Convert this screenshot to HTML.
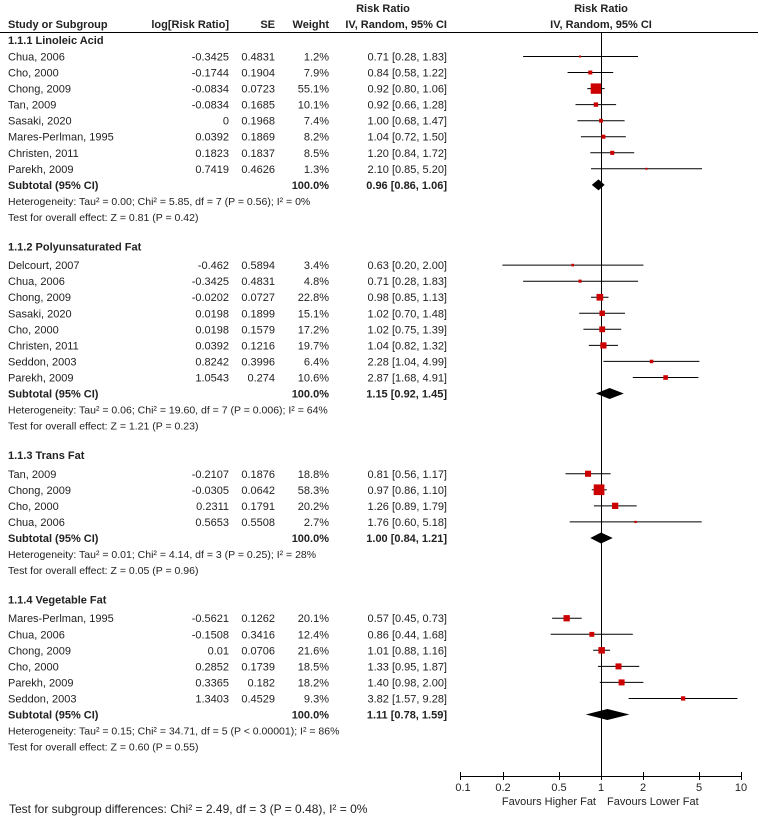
<!DOCTYPE html>
<html><head><meta charset="utf-8"><style>
body{margin:0;background:#fff}
svg{display:block}
text{font-family:"Liberation Sans",Arial,sans-serif;font-size:11px;fill:#222}
.b{font-weight:bold}
.e{text-anchor:end}
.m{text-anchor:middle}
.h{font-size:10.5px}
.f{font-size:12px}
line{stroke:#000;stroke-width:1}
rect{fill:#c00}
</style></head><body>
<svg width="758" height="816" viewBox="0 0 758 816" xmlns="http://www.w3.org/2000/svg">
<text class="b m" x="383" y="12">Risk Ratio</text>
<text class="b m" x="601" y="12">Risk Ratio</text>
<text class="b" x="8" y="28">Study or Subgroup</text>
<text class="b e" x="229" y="28">log[Risk Ratio]</text>
<text class="b e" x="275" y="28">SE</text>
<text class="b e" x="329" y="28">Weight</text>
<text class="b e" x="447" y="28">IV, Random, 95% CI</text>
<text class="b m" x="601" y="28">IV, Random, 95% CI</text>
<line x1="0" y1="32.5" x2="758" y2="32.5"/>
<line x1="601.5" y1="32" x2="601.5" y2="776"/>

<!-- 1.1.1 -->
<text class="b" x="8" y="44">1.1.1 Linoleic Acid</text>
<g>
<text x="8" y="60.5">Chua, 2006</text><text class="e" x="229" y="60.5">-0.3425</text><text class="e" x="275" y="60.5">0.4831</text><text class="e" x="329" y="60.5">1.2%</text><text class="e" x="447" y="60.5">0.71 [0.28, 1.83]</text>
<text x="8" y="76.5">Cho, 2000</text><text class="e" x="229" y="76.5">-0.1744</text><text class="e" x="275" y="76.5">0.1904</text><text class="e" x="329" y="76.5">7.9%</text><text class="e" x="447" y="76.5">0.84 [0.58, 1.22]</text>
<text x="8" y="92.6">Chong, 2009</text><text class="e" x="229" y="92.6">-0.0834</text><text class="e" x="275" y="92.6">0.0723</text><text class="e" x="329" y="92.6">55.1%</text><text class="e" x="447" y="92.6">0.92 [0.80, 1.06]</text>
<text x="8" y="108.6">Tan, 2009</text><text class="e" x="229" y="108.6">-0.0834</text><text class="e" x="275" y="108.6">0.1685</text><text class="e" x="329" y="108.6">10.1%</text><text class="e" x="447" y="108.6">0.92 [0.66, 1.28]</text>
<text x="8" y="124.7">Sasaki, 2020</text><text class="e" x="229" y="124.7">0</text><text class="e" x="275" y="124.7">0.1968</text><text class="e" x="329" y="124.7">7.4%</text><text class="e" x="447" y="124.7">1.00 [0.68, 1.47]</text>
<text x="8" y="140.7">Mares-Perlman, 1995</text><text class="e" x="229" y="140.7">0.0392</text><text class="e" x="275" y="140.7">0.1869</text><text class="e" x="329" y="140.7">8.2%</text><text class="e" x="447" y="140.7">1.04 [0.72, 1.50]</text>
<text x="8" y="156.8">Christen, 2011</text><text class="e" x="229" y="156.8">0.1823</text><text class="e" x="275" y="156.8">0.1837</text><text class="e" x="329" y="156.8">8.5%</text><text class="e" x="447" y="156.8">1.20 [0.84, 1.72]</text>
<text x="8" y="172.8">Parekh, 2009</text><text class="e" x="229" y="172.8">0.7419</text><text class="e" x="275" y="172.8">0.4626</text><text class="e" x="329" y="172.8">1.3%</text><text class="e" x="447" y="172.8">2.10 [0.85, 5.20]</text>
<text class="b" x="8" y="188.9">Subtotal (95% CI)</text><text class="b e" x="329" y="188.9">100.0%</text><text class="b e" x="447" y="188.9">0.96 [0.86, 1.06]</text>
<text class="h" x="8" y="204.9">Heterogeneity: Tau² = 0.00; Chi² = 5.85, df = 7 (P = 0.56); I² = 0%</text>
<text class="h" x="8" y="221">Test for overall effect: Z = 0.81 (P = 0.42)</text>
</g>
<line x1="523.1" y1="56.5" x2="638" y2="56.5"/><rect x="579" y="55.5" width="2" height="2"/>
<line x1="567.6" y1="72.5" x2="613.2" y2="72.5"/><rect x="588.3" y="70.5" width="4" height="4"/>
<line x1="587.3" y1="88.6" x2="604.6" y2="88.6"/><rect x="590.7" y="83.4" width="10.4" height="10.4"/>
<line x1="575.5" y1="104.6" x2="616.1" y2="104.6"/><rect x="593.7" y="102.4" width="4.4" height="4.4"/>
<line x1="577.4" y1="120.7" x2="624.6" y2="120.7"/><rect x="599.1" y="118.8" width="3.8" height="3.8"/>
<line x1="580.9" y1="136.7" x2="625.8" y2="136.7"/><rect x="601.4" y="134.7" width="4" height="4"/>
<line x1="590.3" y1="152.8" x2="634.2" y2="152.8"/><rect x="610.2" y="150.8" width="4.1" height="4.1"/>
<line x1="591" y1="168.8" x2="702" y2="168.8"/><rect x="645.4" y="167.8" width="2" height="2"/>
<polygon points="591.8,184.9 598.5,179.4 604.6,184.9 598.5,190.4" fill="#000"/>

<!-- 1.1.2 -->
<text class="b" x="8" y="250.5">1.1.2 Polyunsaturated Fat</text>
<text x="8" y="269.1">Delcourt, 2007</text><text class="e" x="229" y="269.1">-0.462</text><text class="e" x="275" y="269.1">0.5894</text><text class="e" x="329" y="269.1">3.4%</text><text class="e" x="447" y="269.1">0.63 [0.20, 2.00]</text>
<text x="8" y="285.2">Chua, 2006</text><text class="e" x="229" y="285.2">-0.3425</text><text class="e" x="275" y="285.2">0.4831</text><text class="e" x="329" y="285.2">4.8%</text><text class="e" x="447" y="285.2">0.71 [0.28, 1.83]</text>
<text x="8" y="301.2">Chong, 2009</text><text class="e" x="229" y="301.2">-0.0202</text><text class="e" x="275" y="301.2">0.0727</text><text class="e" x="329" y="301.2">22.8%</text><text class="e" x="447" y="301.2">0.98 [0.85, 1.13]</text>
<text x="8" y="317.3">Sasaki, 2020</text><text class="e" x="229" y="317.3">0.0198</text><text class="e" x="275" y="317.3">0.1899</text><text class="e" x="329" y="317.3">15.1%</text><text class="e" x="447" y="317.3">1.02 [0.70, 1.48]</text>
<text x="8" y="333.3">Cho, 2000</text><text class="e" x="229" y="333.3">0.0198</text><text class="e" x="275" y="333.3">0.1579</text><text class="e" x="329" y="333.3">17.2%</text><text class="e" x="447" y="333.3">1.02 [0.75, 1.39]</text>
<text x="8" y="349.4">Christen, 2011</text><text class="e" x="229" y="349.4">0.0392</text><text class="e" x="275" y="349.4">0.1216</text><text class="e" x="329" y="349.4">19.7%</text><text class="e" x="447" y="349.4">1.04 [0.82, 1.32]</text>
<text x="8" y="365.4">Seddon, 2003</text><text class="e" x="229" y="365.4">0.8242</text><text class="e" x="275" y="365.4">0.3996</text><text class="e" x="329" y="365.4">6.4%</text><text class="e" x="447" y="365.4">2.28 [1.04, 4.99]</text>
<text x="8" y="381.5">Parekh, 2009</text><text class="e" x="229" y="381.5">1.0543</text><text class="e" x="275" y="381.5">0.274</text><text class="e" x="329" y="381.5">10.6%</text><text class="e" x="447" y="381.5">2.87 [1.68, 4.91]</text>
<text class="b" x="8" y="397.5">Subtotal (95% CI)</text><text class="b e" x="329" y="397.5">100.0%</text><text class="b e" x="447" y="397.5">1.15 [0.92, 1.45]</text>
<text class="h" x="8" y="413.6">Heterogeneity: Tau² = 0.06; Chi² = 19.60, df = 7 (P = 0.006); I² = 64%</text>
<text class="h" x="8" y="429.6">Test for overall effect: Z = 1.21 (P = 0.23)</text>
<line x1="502.4" y1="265.1" x2="643.4" y2="265.1"/><rect x="571.4" y="263.8" width="2.6" height="2.6"/>
<line x1="523.1" y1="281.2" x2="638" y2="281.2"/><rect x="578.5" y="279.6" width="3.1" height="3.1"/>
<line x1="591" y1="297.2" x2="608.5" y2="297.2"/><rect x="596.5" y="293.9" width="6.7" height="6.7"/>
<line x1="579.2" y1="313.3" x2="625" y2="313.3"/><rect x="599.5" y="310.6" width="5.4" height="5.4"/>
<line x1="583.4" y1="329.3" x2="621.2" y2="329.3"/><rect x="599.3" y="326.4" width="5.8" height="5.8"/>
<line x1="588.8" y1="345.4" x2="618" y2="345.4"/><rect x="600.3" y="342.3" width="6.2" height="6.2"/>
<line x1="603.4" y1="361.4" x2="699.4" y2="361.4"/><rect x="649.8" y="359.7" width="3.5" height="3.5"/>
<line x1="632.8" y1="377.5" x2="698.4" y2="377.5"/><rect x="663.3" y="375.2" width="4.6" height="4.6"/>
<polygon points="595.9,393.5 609.6,388 623.8,393.5 609.6,399" fill="#000"/>

<!-- 1.1.3 -->
<text class="b" x="8" y="459">1.1.3 Trans Fat</text>
<text x="8" y="477.8">Tan, 2009</text><text class="e" x="229" y="477.8">-0.2107</text><text class="e" x="275" y="477.8">0.1876</text><text class="e" x="329" y="477.8">18.8%</text><text class="e" x="447" y="477.8">0.81 [0.56, 1.17]</text>
<text x="8" y="493.8">Chong, 2009</text><text class="e" x="229" y="493.8">-0.0305</text><text class="e" x="275" y="493.8">0.0642</text><text class="e" x="329" y="493.8">58.3%</text><text class="e" x="447" y="493.8">0.97 [0.86, 1.10]</text>
<text x="8" y="509.9">Cho, 2000</text><text class="e" x="229" y="509.9">0.2311</text><text class="e" x="275" y="509.9">0.1791</text><text class="e" x="329" y="509.9">20.2%</text><text class="e" x="447" y="509.9">1.26 [0.89, 1.79]</text>
<text x="8" y="525.9">Chua, 2006</text><text class="e" x="229" y="525.9">0.5653</text><text class="e" x="275" y="525.9">0.5508</text><text class="e" x="329" y="525.9">2.7%</text><text class="e" x="447" y="525.9">1.76 [0.60, 5.18]</text>
<text class="b" x="8" y="542">Subtotal (95% CI)</text><text class="b e" x="329" y="542">100.0%</text><text class="b e" x="447" y="542">1.00 [0.84, 1.21]</text>
<text class="h" x="8" y="558">Heterogeneity: Tau² = 0.01; Chi² = 4.14, df = 3 (P = 0.25); I² = 28%</text>
<text class="h" x="8" y="574.1">Test for overall effect: Z = 0.05 (P = 0.96)</text>
<line x1="565.5" y1="473.8" x2="610.6" y2="473.8"/><rect x="585" y="470.7" width="6.1" height="6.1"/>
<line x1="591.8" y1="489.8" x2="606.8" y2="489.8"/><rect x="593.7" y="484.4" width="10.7" height="10.7"/>
<line x1="593.9" y1="505.9" x2="636.7" y2="505.9"/><rect x="612" y="502.7" width="6.3" height="6.3"/>
<line x1="569.7" y1="521.9" x2="701.7" y2="521.9"/><rect x="634.4" y="520.8" width="2.3" height="2.3"/>
<polygon points="590.3,538 601,532.5 612.7,538 601,543.5" fill="#000"/>

<!-- 1.1.4 -->
<text class="b" x="8" y="603.5">1.1.4 Vegetable Fat</text>
<text x="8" y="622.2">Mares-Perlman, 1995</text><text class="e" x="229" y="622.2">-0.5621</text><text class="e" x="275" y="622.2">0.1262</text><text class="e" x="329" y="622.2">20.1%</text><text class="e" x="447" y="622.2">0.57 [0.45, 0.73]</text>
<text x="8" y="638.3">Chua, 2006</text><text class="e" x="229" y="638.3">-0.1508</text><text class="e" x="275" y="638.3">0.3416</text><text class="e" x="329" y="638.3">12.4%</text><text class="e" x="447" y="638.3">0.86 [0.44, 1.68]</text>
<text x="8" y="654.3">Chong, 2009</text><text class="e" x="229" y="654.3">0.01</text><text class="e" x="275" y="654.3">0.0706</text><text class="e" x="329" y="654.3">21.6%</text><text class="e" x="447" y="654.3">1.01 [0.88, 1.16]</text>
<text x="8" y="670.4">Cho, 2000</text><text class="e" x="229" y="670.4">0.2852</text><text class="e" x="275" y="670.4">0.1739</text><text class="e" x="329" y="670.4">18.5%</text><text class="e" x="447" y="670.4">1.33 [0.95, 1.87]</text>
<text x="8" y="686.4">Parekh, 2009</text><text class="e" x="229" y="686.4">0.3365</text><text class="e" x="275" y="686.4">0.182</text><text class="e" x="329" y="686.4">18.2%</text><text class="e" x="447" y="686.4">1.40 [0.98, 2.00]</text>
<text x="8" y="702.5">Seddon, 2003</text><text class="e" x="229" y="702.5">1.3403</text><text class="e" x="275" y="702.5">0.4529</text><text class="e" x="329" y="702.5">9.3%</text><text class="e" x="447" y="702.5">3.82 [1.57, 9.28]</text>
<text class="b" x="8" y="718.5">Subtotal (95% CI)</text><text class="b e" x="329" y="718.5">100.0%</text><text class="b e" x="447" y="718.5">1.11 [0.78, 1.59]</text>
<text class="h" x="8" y="734.6">Heterogeneity: Tau² = 0.15; Chi² = 34.71, df = 5 (P &lt; 0.00001); I² = 86%</text>
<text class="h" x="8" y="750.6">Test for overall effect: Z = 0.60 (P = 0.55)</text>
<line x1="552.1" y1="618.2" x2="581.7" y2="618.2"/><rect x="563.5" y="615.1" width="6.3" height="6.3"/>
<line x1="550.7" y1="634.3" x2="632.8" y2="634.3"/><rect x="589.4" y="631.9" width="4.9" height="4.9"/>
<line x1="593.2" y1="650.3" x2="610.1" y2="650.3"/><rect x="598.4" y="647.1" width="6.5" height="6.5"/>
<line x1="597.9" y1="666.4" x2="639.3" y2="666.4"/><rect x="615.5" y="663.4" width="6" height="6"/>
<line x1="599.8" y1="682.4" x2="643.4" y2="682.4"/><rect x="618.6" y="679.4" width="6" height="6"/>
<line x1="628.6" y1="698.5" x2="737.4" y2="698.5"/><rect x="681" y="696.3" width="4.3" height="4.3"/>
<polygon points="585.8,714.5 607.4,709 629.4,714.5 607.4,720" fill="#000"/>

<!-- axis -->
<line x1="460" y1="776.5" x2="742" y2="776.5"/>
<line x1="460.5" y1="772" x2="460.5" y2="780"/>
<line x1="503.5" y1="772" x2="503.5" y2="780"/>
<line x1="559.5" y1="772" x2="559.5" y2="780"/>
<line x1="601.5" y1="772" x2="601.5" y2="780"/>
<line x1="643.5" y1="772" x2="643.5" y2="780"/>
<line x1="699.5" y1="772" x2="699.5" y2="780"/>
<line x1="741.5" y1="772" x2="741.5" y2="780"/>
<text class="m" x="463" y="791">0.1</text>
<text class="m" x="503" y="791">0.2</text>
<text class="m" x="559" y="791">0.5</text>
<text class="m" x="601" y="791">1</text>
<text class="m" x="643" y="791">2</text>
<text class="m" x="699" y="791">5</text>
<text class="m" x="741" y="791">10</text>
<text class="e" x="596" y="805">Favours Higher Fat</text>
<text x="607" y="805">Favours Lower Fat</text>
<text class="f" x="9" y="813">Test for subgroup differences: Chi² = 2.49, df = 3 (P = 0.48), I² = 0%</text>
</svg>
</body></html>
